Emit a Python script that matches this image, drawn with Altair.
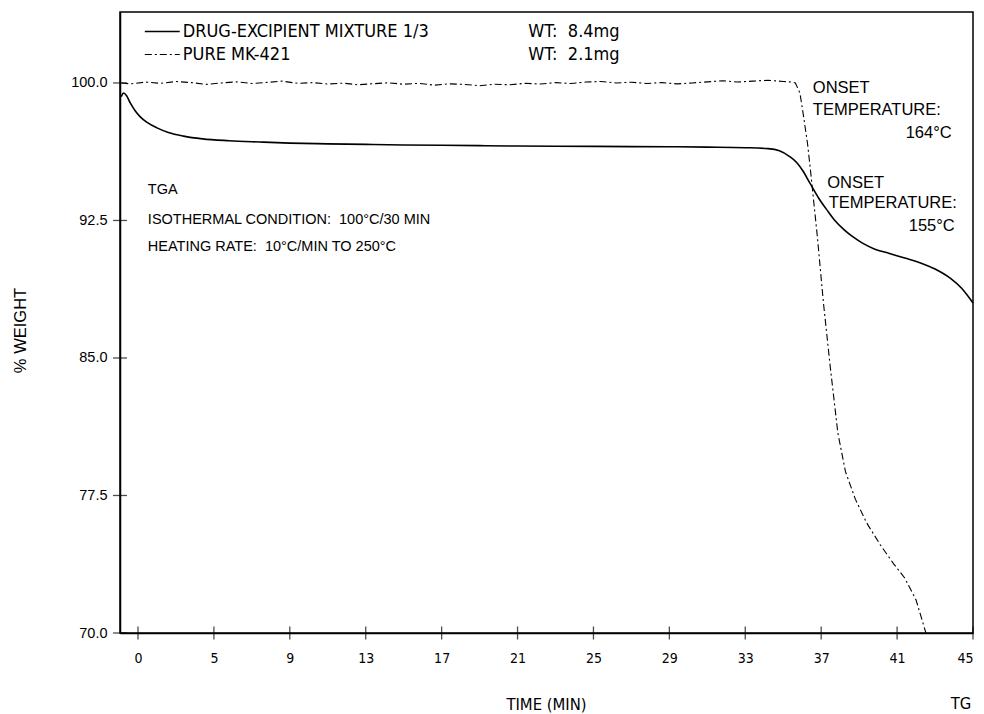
import altair as alt
import pandas as pd

# ---------------- data (x in axis-tick units; tick i carries label tick_labels[i]) ----
tick_labels = ["0", "5", "9", "13", "17", "21", "25", "29", "33", "37", "41", "45"]
y_ticks = [70.0, 77.5, 85.0, 92.5, 100.0]

mix_x = [-0.22, -0.19, -0.15, -0.1, -0.04, 0.03, 0.12, 0.25, 0.4, 0.6, 0.85, 1.2, 1.6,
         2.0, 2.5, 3.0, 3.5, 4.0, 4.5, 5.0, 5.5, 6.0, 6.5, 7.0, 7.5, 8.0, 8.3, 8.45,
         8.58, 8.68, 8.76, 8.85, 8.97, 9.08, 9.18, 9.3, 9.42, 9.55, 9.7, 9.9, 10.1,
         10.3, 10.5, 10.7, 10.85, 11.0]
mix_y = [99.25, 99.45, 99.3, 98.9, 98.5, 98.15, 97.85, 97.55, 97.3, 97.1, 96.95, 96.85,
         96.78, 96.72, 96.68, 96.65, 96.62, 96.6, 96.58, 96.56, 96.55, 96.54, 96.53,
         96.52, 96.5, 96.47, 96.42, 96.3, 96.0, 95.65, 95.2, 94.55, 93.7, 93.05, 92.5,
         92.0, 91.6, 91.25, 90.95, 90.7, 90.45, 90.2, 89.85, 89.35, 88.8, 88.0]

pure_x = [-0.22, -0.1, 0.1, 0.3, 0.5, 0.7, 0.9, 1.1, 1.3, 1.5, 1.7, 1.9, 2.1, 2.3, 2.5,
          2.7, 2.9, 3.1, 3.3, 3.5, 3.7, 3.9, 4.1, 4.3, 4.5, 4.7, 4.9, 5.1, 5.3, 5.5,
          5.7, 5.9, 6.1, 6.3, 6.5, 6.7, 6.9, 7.1, 7.3, 7.5, 7.7, 7.9, 8.1, 8.3, 8.5,
          8.62, 8.66, 8.72, 8.76, 8.82, 8.86, 8.9, 8.95, 9.03, 9.12, 9.22, 9.32, 9.45,
          9.6, 9.78, 9.95, 10.1, 10.25, 10.38]
pure_y = [100.0, 99.95, 100.05, 99.98, 100.08, 100.02, 99.92, 100.0, 100.06, 99.97,
          100.03, 100.1, 99.98, 100.02, 99.94, 99.99, 99.9, 99.96, 100.01, 99.93, 99.98,
          99.88, 99.95, 99.92, 99.85, 99.93, 99.9, 99.98, 99.94, 100.02, 99.97, 100.05,
          100.08, 100.0, 100.04, 99.97, 100.02, 99.95, 100.0, 100.06, 100.12, 100.05,
          100.1, 100.15, 100.08, 100.05, 100.0, 99.45, 98.4, 96.7, 95.2, 93.6, 91.6,
          88.0, 84.5, 80.9, 78.8, 77.3, 76.0, 74.8, 73.8, 73.0, 71.8, 70.0]

NB = "\u00a0"
legend_names = ["DRUG-EXCIPIENT MIXTURE 1/3", "PURE MK-421"]
legend_wts = ["WT:" + NB * 2 + "8.4mg", "WT:" + NB * 2 + "2.1mg"]

left_notes = ["TGA", "ISOTHERMAL CONDITION:" + NB * 2 + "100\u00b0C/30" + NB + "MIN",
              "HEATING RATE:" + NB * 2 + "10\u00b0C/MIN TO 250\u00b0C"]
onset_pure = ["ONSET", "TEMPERATURE:", "164\u00b0C"]
onset_mix = ["ONSET", "TEMPERATURE:", "155\u00b0C"]

X_DOM = [-0.237, 11.0]
Y_DOM = [70.0, 103.87]

# ---------------- tables -------------------------------------------------------------
mix_df = pd.DataFrame({"x": mix_x, "y": mix_y})
pure_df = pd.DataFrame({"x": pure_x, "y": pure_y})

leg_line_df = pd.DataFrame({"x": [0.09, 0.09], "x2": [0.55, 0.55],
                            "y": [102.8, 101.55], "s": ["mix", "pure"]})
leg_text_df = pd.DataFrame({"x": [0.59, 0.59, 5.14, 5.14],
                            "y": [102.8, 101.55, 102.8, 101.55],
                            "t": legend_names + legend_wts})
left_df = pd.DataFrame({"x": [0.13, 0.13, 0.13], "y": [94.16, 92.53, 91.05], "t": left_notes})
onset_l_df = pd.DataFrame({"x": [8.89, 8.89, 9.08, 9.1],
                           "y": [99.73, 98.53, 94.54, 93.45],
                           "t": [onset_pure[0], onset_pure[1], onset_mix[0], onset_mix[1]]})
onset_r_df = pd.DataFrame({"x": [10.72, 10.76], "y": [97.27, 92.2],
                           "t": [onset_pure[2], onset_mix[2]]})
ytick_df = pd.DataFrame({"x": [X_DOM[0]] * len(y_ticks), "y": y_ticks})
xtick_df = pd.DataFrame({"x": list(range(len(tick_labels))), "y": [70.0] * len(tick_labels)})

label_expr = "[" + ",".join("'%s'" % t for t in tick_labels) + "][datum.value]"

FONT = "Liberation Sans"
NARROW = "DejaVu Sans Condensed, Roboto, Liberation Sans, sans-serif"

xs = alt.Scale(domain=X_DOM, nice=False, zero=False)
ys = alt.Scale(domain=Y_DOM, nice=False, zero=False)

x_enc = alt.X("x:Q", scale=xs, axis=alt.Axis(
    values=list(range(len(tick_labels))), labelExpr=label_expr, grid=False,
    ticks=False, tickSize=0, labelPadding=18, labelFontSize=14, labelFont=NARROW,
    labelColor="black", domainColor="black", domainWidth=1.5,
    title="TIME (MIN)", titleFont=NARROW, titleFontSize=16.5, titleFontWeight="normal",
    titleX=426, titleY=71, titleAlign="center", titleBaseline="middle", titleColor="black"))
y_enc = alt.Y("y:Q", scale=ys, axis=alt.Axis(
    values=y_ticks, format=".1f", grid=False, ticks=False, tickSize=0, labelPadding=13,
    labelFontSize=14.5, labelFont=FONT, labelColor="black", domainColor="black",
    domainWidth=1.5, title="% WEIGHT", titleFont=FONT, titleFontSize=16.5,
    titleFontWeight="normal", titleX=-100, titleY=318, titleAngle=-90,
    titleAlign="center", titleBaseline="middle", titleColor="black"))

mix_line = alt.Chart(mix_df).mark_line(color="black", strokeWidth=1.6, interpolate="monotone").encode(
    x=x_enc, y=y_enc)
pure_line = alt.Chart(pure_df).mark_line(color="black", strokeWidth=1.1,
                                         strokeDash=[7, 3, 2, 3]).encode(x="x:Q", y="y:Q")

leg_lines = alt.Chart(leg_line_df).mark_rule(color="black").encode(
    x="x:Q", x2="x2:Q", y="y:Q",
    strokeDash=alt.StrokeDash("s:N", scale=alt.Scale(domain=["mix", "pure"],
                                                      range=[[1, 0], [7, 3, 2, 3]]), legend=None),
    strokeWidth=alt.StrokeWidth("s:N", scale=alt.Scale(domain=["mix", "pure"], range=[1.5, 1.1]),
                                legend=None))
leg_text = alt.Chart(leg_text_df).mark_text(align="left", baseline="middle", font=NARROW,
                                            fontSize=18, color="black").encode(
    x="x:Q", y="y:Q", text="t:N")
left_text = alt.Chart(left_df).mark_text(align="left", baseline="middle", font=FONT,
                                         fontSize=14.5, color="black").encode(
    x="x:Q", y="y:Q", text="t:N")
onset_l = alt.Chart(onset_l_df).mark_text(align="left", baseline="middle", font=FONT,
                                          fontSize=16.5, color="black").encode(
    x="x:Q", y="y:Q", text="t:N")
onset_r = alt.Chart(onset_r_df).mark_text(align="right", baseline="middle", font=FONT,
                                          fontSize=16.5, color="black").encode(
    x="x:Q", y="y:Q", text="t:N")
yticks = alt.Chart(ytick_df).mark_tick(orient="horizontal", color="black", size=14,
                                       thickness=1.3).encode(x="x:Q", y="y:Q")
xticks = alt.Chart(xtick_df).mark_tick(orient="vertical", color="black", size=13,
                                       thickness=1.3).encode(x="x:Q", y="y:Q")
tg = alt.Chart(pd.DataFrame({"t": ["TG"]})).mark_text(
    align="center", baseline="middle", font=NARROW, fontSize=16.5, color="black").encode(
    x=alt.value(841), y=alt.value(692), text="t:N")

chart = alt.layer(mix_line, pure_line, leg_lines, leg_text, left_text, onset_l, onset_r,
                  yticks, xticks, tg).properties(
    width=853, height=621,
    padding={"left": 120, "top": 12, "right": 11, "bottom": 81},
    autosize=alt.AutoSizeParams(type="none"),
    background="white",
).configure_view(stroke="black", strokeWidth=1.5)

chart.save("out.html", embed_options={"renderer": "svg", "actions": False})
